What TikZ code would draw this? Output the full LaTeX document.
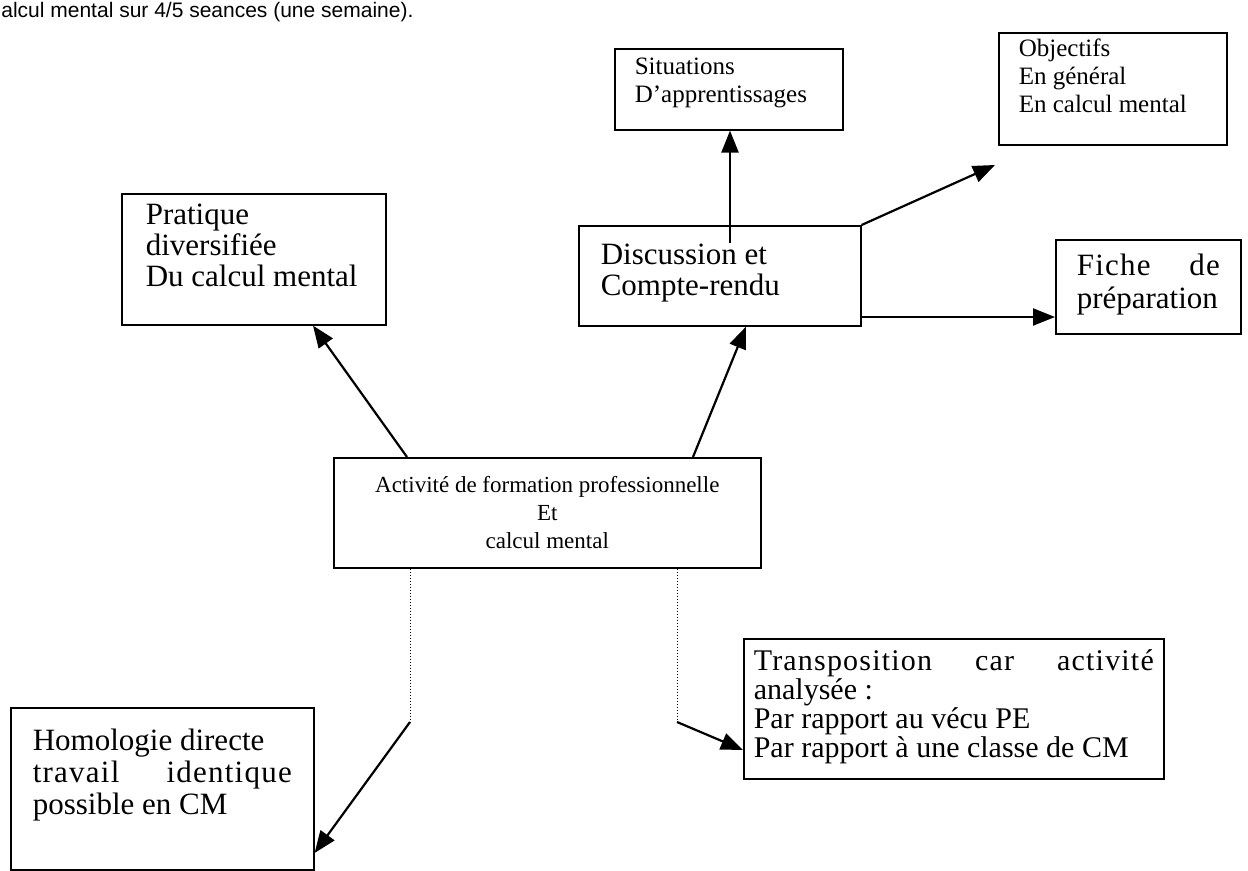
\documentclass[tikz,border=0pt]{standalone}
\usepackage{fontspec}
\setmainfont{Liberation Serif}
\newfontfamily\notefont{Liberation Sans}
\usetikzlibrary{arrows.meta,calc}

\newcommand{\boxtext}[3]{\parbox[t][#2][t]{#1}{#3}}
\newcommand{\spaced}[1]{{\addfontfeature{LetterSpace=4}#1}}

\tikzset{
  box/.style={draw, line width=0.8pt, anchor=north west},
  arrow/.style={line width=1.1pt, -{Triangle[length=11pt,width=8.5pt]}},
  dotline/.style={line width=0.5pt, densely dotted},
}

\begin{document}
\begin{tikzpicture}[x=0.5pt,y=-0.5pt]
\useasboundingbox (0,0) rectangle (1248,871);
\fill[white] (0,0) rectangle (1248,871);

\node[anchor=base west, inner sep=0, font=\notefont\fontsize{10.5}{12}\selectfont] (titre) at (1,18) {alcul mental sur 4/5 seances (une semaine).};

\node[box, inner xsep=10pt, inner ysep=4.5pt, font=\fontsize{12.5}{14}\selectfont] (sit) at (614,48)
  {\boxtext{94pt}{31.5pt}{Situations\\D’apprentissages}};
\node[box, inner xsep=10pt, inner ysep=3pt, font=\fontsize{12.5}{14}\selectfont] (obj) at (998,32)
  {\boxtext{94pt}{50pt}{Objectifs\\En général\\En calcul mental}};
\node[box, inner xsep=11pt, inner ysep=9pt, font=\fontsize{15.5}{15.5}\selectfont] (disc) at (578,225)
  {\boxtext{119pt}{32pt}{Discussion et\\Compte-rendu}};
\node[box, inner xsep=10.5pt, inner ysep=7pt, font=\fontsize{15.5}{16.5}\selectfont] (fiche) at (1055,239)
  {\boxtext{71.5pt}{33pt}{\spaced{Fiche de}\linebreak préparation}};
\node[box, inner xsep=12pt, inner ysep=5pt, font=\fontsize{15.5}{15.5}\selectfont] (prat) at (121,193)
  {\boxtext{108pt}{55.5pt}{Pratique\\diversifiée\\Du calcul mental}};
\node[box, inner xsep=10pt, inner ysep=9.5pt, font=\fontsize{11.5}{14}\selectfont] (act) at (333,457)
  {\boxtext{193.5pt}{36pt}{\centering Activité de formation professionnelle\\Et\\calcul mental}};
\node[box, inner xsep=11pt, inner ysep=10.5pt, font=\fontsize{15.5}{16}\selectfont] (homo) at (10,707)
  {\boxtext{129.5pt}{60pt}{Homologie directe\\\spaced{travail identique}\linebreak possible en CM}};
\node[box, inner xsep=5pt, inner ysep=5.25pt, font=\fontsize{15}{14.6}\selectfont] (trans) at (743,638)
  {\boxtext{200pt}{59.5pt}{\spaced{Transposition car activité}\linebreak analysée :\\Par rapport au vécu PE\\Par rapport à une classe de CM}};

\coordinate (pointe) at (995,165);
\coordinate (coinG) at (410,722);
\coordinate (coinD) at (677,722);

\draw[arrow] (act.north -| 407,0) -- (prat.south -| 313,0);
\draw[arrow] (act.north -| 693,0) -- (disc.south -| 746,0);
\draw[arrow] ($(disc.north -| 730,0)+(0,18)$) -- (sit.south -| 730,0);
\draw[arrow] (disc.north east) -- (pointe);
\draw[arrow] (disc.east |- 0,317) -- (fiche.west |- 0,317);
\draw[dotline] (act.south -| coinG) -- (coinG);
\draw[arrow] (coinG) -- (homo.east |- 0,853);
\draw[dotline] (act.south -| coinD) -- (coinD);
\draw[arrow] (coinD) -- (trans.west |- 0,750);
\end{tikzpicture}
\end{document}
